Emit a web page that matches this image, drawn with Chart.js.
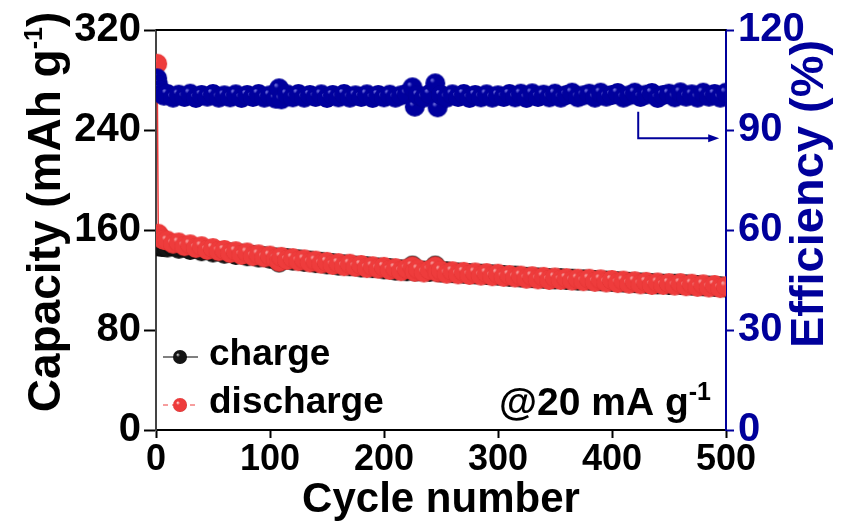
<!DOCTYPE html>
<html>
<head>
<meta charset="utf-8">
<script src="https://cdn.jsdelivr.net/npm/chart.js@4.4.1/dist/chart.umd.min.js"></script>
<style>
  html, body { margin: 0; padding: 0; background: #fff; }
  #wrap { width: 841px; height: 524px; }
</style>
</head>
<body>
<div id="wrap"><canvas id="cycleChart" width="841" height="524"></canvas></div>
<script>
// Ciclos medidos y valores de capacidad / eficiencia
const cycles = [
  1, 2, 3, 5, 7,
  10, 15, 20, 25, 30, 35, 40, 45, 50, 55, 60, 65, 70, 75, 80, 85, 90, 95, 100, 105,
  108,
  110, 115, 120, 125, 130, 135, 140, 145, 150, 155, 160, 165, 170, 175, 180, 185, 190, 195, 200, 205, 210, 215, 220,
  225, 227,
  230, 235, 240, 245,
  247,
  250, 255, 260, 265, 270, 275, 280, 285, 290, 295, 300, 305, 310, 315, 320, 325, 330, 335, 340, 345,
  350, 355, 360, 365, 370, 375, 380, 385, 390, 395, 400, 405, 410, 415, 420, 425, 430, 435, 440, 445,
  450, 455, 460, 465, 470, 475, 480, 485, 490, 495, 500
];

const dischargeCapacity = [
  293, 157, 155, 153, 152,
  151.5, 149, 150, 147, 148.5, 145.5, 147, 144, 145.5, 143, 144, 141.5, 143, 140, 142, 139, 140.5, 138, 139.5, 137,
  134.5,
  138.5, 136, 137.5, 135, 136.5, 134, 135.5, 133, 134.5, 132, 133.5, 131, 133, 130.5, 132, 129.5, 131, 129, 130.5, 128, 129.5, 127, 129,
  131, 126.5,
  128.5, 126, 128, 131,
  126,
  127.5, 125, 127, 124.5, 126.5, 124, 126, 123.5, 125.5, 123, 125, 122.5, 124, 122, 123.5, 121, 123, 120.5, 122.5, 120,
  122, 120, 121.5, 119.5, 121, 119, 121, 118.5, 120.5, 118, 120, 117.5, 119.5, 117, 119, 116.5, 118.5, 116, 118, 116,
  117.5, 115.5, 117.5, 115, 117, 114.5, 116.5, 114, 116, 113.5, 115
];

const chargeCapacity = [
  148, 147, 147, 146.5, 146.5,
  146, 147, 145, 146, 144, 145, 143, 144, 142, 143, 141, 142, 140, 141, 139, 140, 138, 139, 137, 138,
  134,
  136.5, 137.5, 135.5, 136.5, 134.5, 135.5, 133.5, 134.5, 132.5, 133.5, 131.5, 132.5, 131, 131.5, 130, 131, 129.5, 130, 128.5, 129.5, 127.5, 128.5, 127,
  131.5, 127,
  127, 127.5, 126.5, 131.5,
  126.5,
  126, 127, 125.5, 126, 125, 125.5, 124.5, 125, 124, 124.5, 123.5, 124, 122.5, 123.5, 122, 122.5, 121.5, 122, 121, 121.5,
  120.5, 121.5, 120, 121, 119.5, 120.5, 119.5, 120, 119, 119.5, 118.5, 119, 118, 118.5, 117.5, 118, 117, 117.5, 116.5, 117,
  116, 117, 116, 116.5, 115.5, 116, 115, 115.5, 114.5, 115, 114
];

const efficiency = [
  105.5, 103.5, 102, 101, 100.3,
  100.8, 99.7, 100.6, 99.9, 100.9, 99.6, 100.5, 100, 100.8, 99.7, 100.4, 99.8, 100.7, 99.6, 100.5, 99.9, 100.8, 99.7, 100.4, 99.4,
  102.5,
  99.2, 100.7, 99.8, 100.8, 99.7, 100.5, 99.9, 100.7, 99.6, 100.5, 99.8, 100.8, 99.7, 100.4, 99.9, 100.7, 99.6, 100.5, 99.8, 100.6, 99.7, 100.4, 100.9,
  102.8, 97,
  100.4, 99.7, 100.8, 104,
  96.8,
  100.5, 99.7, 100.7, 99.9, 100.8, 99.6, 100.5, 99.8, 100.7, 99.7, 100.4, 99.9, 100.8, 99.8, 100.9, 99.6, 101, 99.9, 100.6, 99.8,
  100.9, 99.7, 100.5, 101.2, 99.8, 100.4, 100.9, 99.7, 101.2, 100, 100.5, 101.1, 99.7, 100.4, 101.2, 99.9, 100.6, 101.1, 99.6, 100.5,
  100.9, 99.8, 101.3, 100, 100.7, 99.7, 101.2, 100, 100.8, 99.7, 101.2
];

const capacityTicks = [0, 80, 160, 240, 320];
const efficiencyTicks = [0, 30, 60, 90, 120];
const cycleTicks = [0, 100, 200, 300, 400, 500];

const BLUE = '#00009b';
const RED = '#ee3c3c';
const FONT = '"Liberation Sans", Arial, sans-serif';

// Esfera con brillo para los marcadores
function makeBall(color, light, dark, r) {
  const c = document.createElement('canvas');
  const s = r * 2 + 2;
  c.width = c.height = s;
  const g = c.getContext('2d');
  const grd = g.createRadialGradient(s / 2 - r * 0.35, s / 2 - r * 0.35, 0.5, s / 2, s / 2, r);
  grd.addColorStop(0, light);
  grd.addColorStop(0.22, color);
  grd.addColorStop(0.9, color);
  grd.addColorStop(1, dark);
  g.fillStyle = grd;
  g.beginPath();
  g.arc(s / 2, s / 2, r, 0, Math.PI * 2);
  g.fill();
  return c;
}

const ballBlack = makeBall('#151515', '#9a9a9a', '#000', 10);
const ballRed = makeBall(RED, '#f8a0a0', '#dc3030', 10);
const ballBlue = makeBall('#00009e', '#7070dd', '#00008a', 10);
const legendBlack = makeBall('#151515', '#bdbdbd', '#000', 7);
const legendRed = makeBall(RED, '#ffd0d0', '#c82626', 7);

function toPoints(values) {
  return cycles.map((c, i) => ({ x: c, y: values[i] }));
}

// Texto con superíndice "-1"
function drawSupText(ctx, parts, x, y, align) {
  const fontOf = p => 'bold ' + (p.sup ? 25 : p.size) + 'px ' + FONT;
  const widths = parts.map(p => {
    ctx.font = fontOf(p);
    return ctx.measureText(p.text).width;
  });
  const total = widths.reduce((a, b) => a + b, 0);
  let cx = align === 'center' ? x - total / 2 : x;
  parts.forEach((p, i) => {
    ctx.font = fontOf(p);
    ctx.textAlign = 'left';
    ctx.textBaseline = 'alphabetic';
    ctx.fillText(p.text, cx, p.sup ? y - p.rise : y);
    cx += widths[i];
  });
}

const decorations = {
  id: 'decorations',
  afterDraw(chart) {
    const ctx = chart.ctx;
    const area = chart.chartArea;
    const xs = chart.scales.x;
    const y1 = chart.scales.y1;
    ctx.save();

    // marco superior
    ctx.strokeStyle = '#000';
    ctx.lineWidth = 2;
    ctx.beginPath();
    ctx.moveTo(area.left, area.top);
    ctx.lineTo(area.right, area.top);
    ctx.stroke();

    // título eje izquierdo
    ctx.fillStyle = '#000';
    ctx.save();
    ctx.translate(60, 212);
    ctx.rotate(-Math.PI / 2);
    drawSupText(ctx, [
      { text: 'Capacity (mAh g', size: 46 },
      { text: '-1', sup: true, rise: 18 },
      { text: ')', size: 46 }
    ], 0, 0, 'center');
    ctx.restore();

    // título eje derecho
    ctx.save();
    ctx.fillStyle = BLUE;
    ctx.translate(823, 194);
    ctx.rotate(-Math.PI / 2);
    ctx.font = 'bold 47px ' + FONT;
    ctx.textAlign = 'center';
    ctx.textBaseline = 'alphabetic';
    ctx.fillText('Efficiency (%)', 0, 0);
    ctx.restore();

    // título eje x
    ctx.fillStyle = '#000';
    ctx.font = 'bold 42px ' + FONT;
    ctx.textAlign = 'center';
    ctx.textBaseline = 'alphabetic';
    ctx.fillText('Cycle number', (area.left + area.right) / 2, 512);

    // leyenda
    const legend = [
      { label: 'charge', ball: legendBlack, color: '#000', dash: [], y: 357 },
      { label: 'discharge', ball: legendRed, color: RED, dash: [5, 4], y: 405 }
    ];
    legend.forEach(item => {
      ctx.strokeStyle = item.color;
      ctx.lineWidth = 1;
      ctx.setLineDash(item.dash);
      ctx.beginPath();
      ctx.moveTo(163, item.y);
      ctx.lineTo(198, item.y);
      ctx.stroke();
      ctx.setLineDash([]);
      ctx.drawImage(item.ball, 180 - item.ball.width / 2, item.y - item.ball.height / 2);
      ctx.fillStyle = '#000';
      ctx.font = 'bold 37px ' + FONT;
      ctx.textAlign = 'left';
      ctx.textBaseline = 'middle';
      ctx.fillText(item.label, 209, item.y - 2);
    });

    // densidad de corriente
    ctx.fillStyle = '#000';
    drawSupText(ctx, [
      { text: '@20 mA g', size: 39 },
      { text: '-1', sup: true, rise: 15 }
    ], 499, 415, 'left');

    // flecha hacia el eje de eficiencia
    const ax = xs.getPixelForValue(423);
    const ayTop = y1.getPixelForValue(95.5);
    const ayBot = y1.getPixelForValue(87.5);
    const axEnd = xs.getPixelForValue(494);
    ctx.strokeStyle = BLUE;
    ctx.fillStyle = BLUE;
    ctx.lineWidth = 2;
    ctx.beginPath();
    ctx.moveTo(ax, ayTop);
    ctx.lineTo(ax, ayBot);
    ctx.lineTo(axEnd - 8, ayBot);
    ctx.stroke();
    ctx.beginPath();
    ctx.moveTo(axEnd, ayBot);
    ctx.lineTo(axEnd - 11, ayBot - 4);
    ctx.lineTo(axEnd - 11, ayBot + 4);
    ctx.closePath();
    ctx.fill();

    ctx.restore();
  }
};

const ctx = document.getElementById('cycleChart').getContext('2d');

new Chart(ctx, {
  type: 'line',
  data: {
    datasets: [
      {
        label: 'discharge',
        data: toPoints(dischargeCapacity),
        yAxisID: 'y',
        borderColor: RED,
        borderWidth: 1.5,
        pointStyle: ballRed,
        pointRadius: 10,
        order: 1
      },
      {
        label: 'charge',
        data: toPoints(chargeCapacity),
        yAxisID: 'y',
        borderColor: '#000',
        borderWidth: 1,
        pointStyle: ballBlack,
        pointRadius: 10,
        order: 2
      },
      {
        label: 'efficiency',
        data: toPoints(efficiency),
        yAxisID: 'y1',
        borderColor: BLUE,
        borderWidth: 1,
        pointStyle: ballBlue,
        pointRadius: 10,
        order: 0
      }
    ]
  },
  options: {
    responsive: false,
    animation: false,
    devicePixelRatio: 1,
    layout: { padding: { top: 30, left: 0, right: 0, bottom: 0 } },
    plugins: {
      legend: { display: false },
      tooltip: { enabled: false }
    },
    scales: {
      x: {
        type: 'linear',
        min: cycleTicks[0],
        max: cycleTicks[cycleTicks.length - 1],
        afterBuildTicks: s => { s.ticks = cycleTicks.map(v => ({ value: v })); },
        afterFit: s => { s.height = 94; },
        border: { color: '#000', width: 2 },
        grid: { drawOnChartArea: false, tickLength: 8, tickColor: '#000', tickWidth: 2 },
        ticks: { color: '#000', padding: 0, maxRotation: 0, font: { family: FONT, size: 36, weight: 'bold' } }
      },
      y: {
        position: 'left',
        min: capacityTicks[0],
        max: capacityTicks[capacityTicks.length - 1],
        afterBuildTicks: s => { s.ticks = capacityTicks.map(v => ({ value: v })); },
        afterFit: s => { s.width = 156; },
        border: { color: '#444', width: 2 },
        grid: { drawOnChartArea: false, tickLength: 12, tickColor: '#000', tickWidth: 2 },
        ticks: { color: '#000', padding: 3, font: { family: FONT, size: 40, weight: 'bold' } }
      },
      y1: {
        position: 'right',
        min: efficiencyTicks[0],
        max: efficiencyTicks[efficiencyTicks.length - 1],
        afterBuildTicks: s => { s.ticks = efficiencyTicks.map(v => ({ value: v })); },
        afterFit: s => { s.width = 115; },
        border: { color: BLUE, width: 2 },
        grid: { drawOnChartArea: false, tickLength: 8, tickColor: BLUE, tickWidth: 2 },
        ticks: { color: BLUE, padding: 4, font: { family: FONT, size: 40, weight: 'bold' } }
      }
    }
  },
  plugins: [decorations]
});
</script>
</body>
</html>
